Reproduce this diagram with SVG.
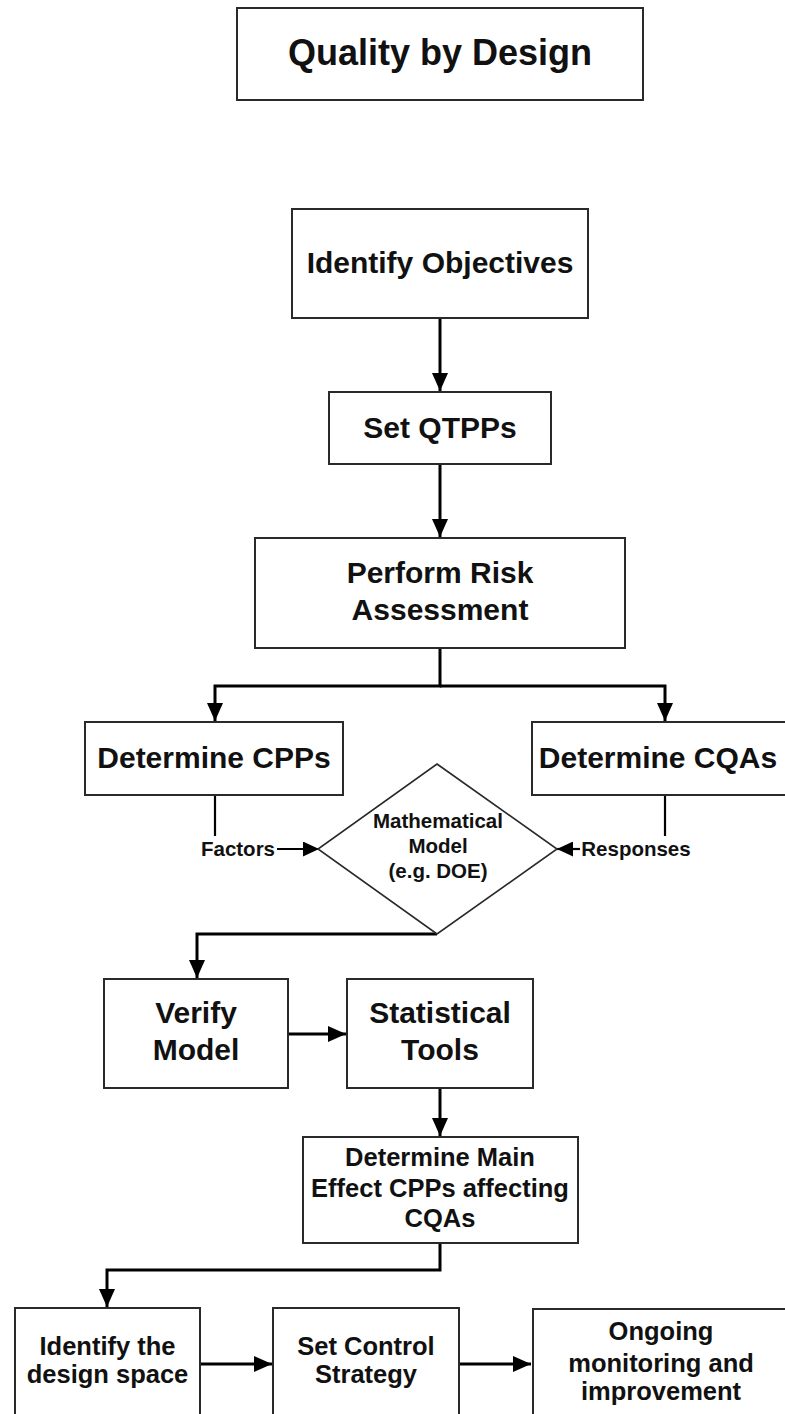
<svg xmlns="http://www.w3.org/2000/svg" width="785" height="1414" viewBox="0 0 785 1414">
<style>
.box{fill:#fff;stroke:#2a2a2a;stroke-width:2}
.dia{fill:#fff;stroke:#2a2a2a;stroke-width:1.6}
.t{font-family:"Liberation Sans",Arial,sans-serif;font-weight:bold;fill:#111;text-anchor:middle}
.t36{font-size:36px}
.t30{font-size:30px}
.t25{font-size:25.5px}
.t20{font-size:20.5px}
.c{fill:none;stroke:#000;stroke-width:3}
.cs{fill:none;stroke:#000;stroke-width:2.2}
</style>
<defs>
<marker id="arr" viewBox="0 0 18 16" refX="18" refY="8" markerWidth="18" markerHeight="16" markerUnits="userSpaceOnUse" orient="auto">
<path d="M0,0 L18,8 L0,16 z" fill="#000"/>
</marker>
<marker id="arrs" viewBox="0 0 16 15" refX="16" refY="7.5" markerWidth="16" markerHeight="15" markerUnits="userSpaceOnUse" orient="auto">
<path d="M0,0 L16,7.5 L0,15 z" fill="#000"/>
</marker>
</defs>
<rect width="785" height="1414" fill="#fff"/>

<g id="connectors">
<path class="c" d="M440,318 V391" marker-end="url(#arr)"/>
<path class="c" d="M440,464 V537" marker-end="url(#arr)"/>
<path class="c" d="M440,648 V686 H215 V721" marker-end="url(#arr)"/>
<path class="c" d="M440,686 H665 V721" marker-end="url(#arr)"/>
<path class="cs" d="M215,795 V836"/>
<path class="cs" d="M277,849 H319" marker-end="url(#arrs)"/>
<path class="cs" d="M665,795 V836"/>
<path class="cs" d="M580,849 H557" marker-end="url(#arrs)"/>
<path class="c" d="M437,934 H197 V978" marker-end="url(#arr)"/>
<path class="c" d="M288,1034 H346" marker-end="url(#arr)"/>
<path class="c" d="M440,1088 V1136" marker-end="url(#arr)"/>
<path class="c" d="M440,1243 V1270 H107 V1307" marker-end="url(#arr)"/>
<path class="c" d="M200,1364 H272" marker-end="url(#arr)"/>
<path class="c" d="M459,1364 H531" marker-end="url(#arr)"/>
</g>

<g id="title">
<rect class="box" x="237" y="8" width="406" height="92"/>
<text class="t t36" x="440" y="65">Quality by Design</text>
</g>

<g id="identify-objectives">
<rect class="box" x="292" y="209" width="296" height="109"/>
<text class="t t30" x="440" y="273">Identify Objectives</text>
</g>

<g id="set-qtpps">
<rect class="box" x="329" y="392" width="222" height="72"/>
<text class="t t30" x="440" y="438">Set QTPPs</text>
</g>

<g id="risk-assessment">
<rect class="box" x="255" y="538" width="370" height="110"/>
<text class="t t30" x="440" y="583">Perform Risk</text>
<text class="t t30" x="440" y="620">Assessment</text>
</g>

<g id="determine-cpps">
<rect class="box" x="85" y="722" width="258" height="73"/>
<text class="t t30" x="214" y="768">Determine CPPs</text>
</g>

<g id="determine-cqas">
<rect class="box" x="532" y="722" width="260" height="73"/>
<text class="t t30" x="658" y="768">Determine CQAs</text>
</g>

<g id="factors-label">
<text class="t t20" x="238" y="856">Factors</text>
</g>

<g id="responses-label">
<text class="t t20" x="636" y="856">Responses</text>
</g>

<g id="math-model">
<polygon class="dia" points="437,764 557,849 437,934 318,849"/>
<text class="t t20" x="438" y="828">Mathematical</text>
<text class="t t20" x="438" y="853">Model</text>
<text class="t t20" x="438" y="878">(e.g. DOE)</text>
</g>

<g id="verify-model">
<rect class="box" x="104" y="979" width="184" height="109"/>
<text class="t t30" x="196" y="1023">Verify</text>
<text class="t t30" x="196" y="1060">Model</text>
</g>

<g id="statistical-tools">
<rect class="box" x="347" y="979" width="186" height="109"/>
<text class="t t30" x="440" y="1023">Statistical</text>
<text class="t t30" x="440" y="1060">Tools</text>
</g>

<g id="main-effect">
<rect class="box" x="303" y="1137" width="275" height="106"/>
<text class="t t25" x="440" y="1166">Determine Main</text>
<text class="t t25" x="440" y="1197">Effect CPPs affecting</text>
<text class="t t25" x="440" y="1227">CQAs</text>
</g>

<g id="design-space">
<rect class="box" x="15" y="1308" width="185" height="120"/>
<text class="t t25" x="107.5" y="1355">Identify the</text>
<text class="t t25" x="107.5" y="1383">design space</text>
</g>

<g id="control-strategy">
<rect class="box" x="273" y="1308" width="186" height="120"/>
<text class="t t25" x="366" y="1355">Set Control</text>
<text class="t t25" x="366" y="1383">Strategy</text>
</g>

<g id="ongoing">
<rect class="box" x="533" y="1309" width="258" height="120"/>
<text class="t t25" x="661" y="1340">Ongoing</text>
<text class="t t25" x="661" y="1372">monitoring and</text>
<text class="t t25" x="661" y="1400">improvement</text>
</g>
</svg>
